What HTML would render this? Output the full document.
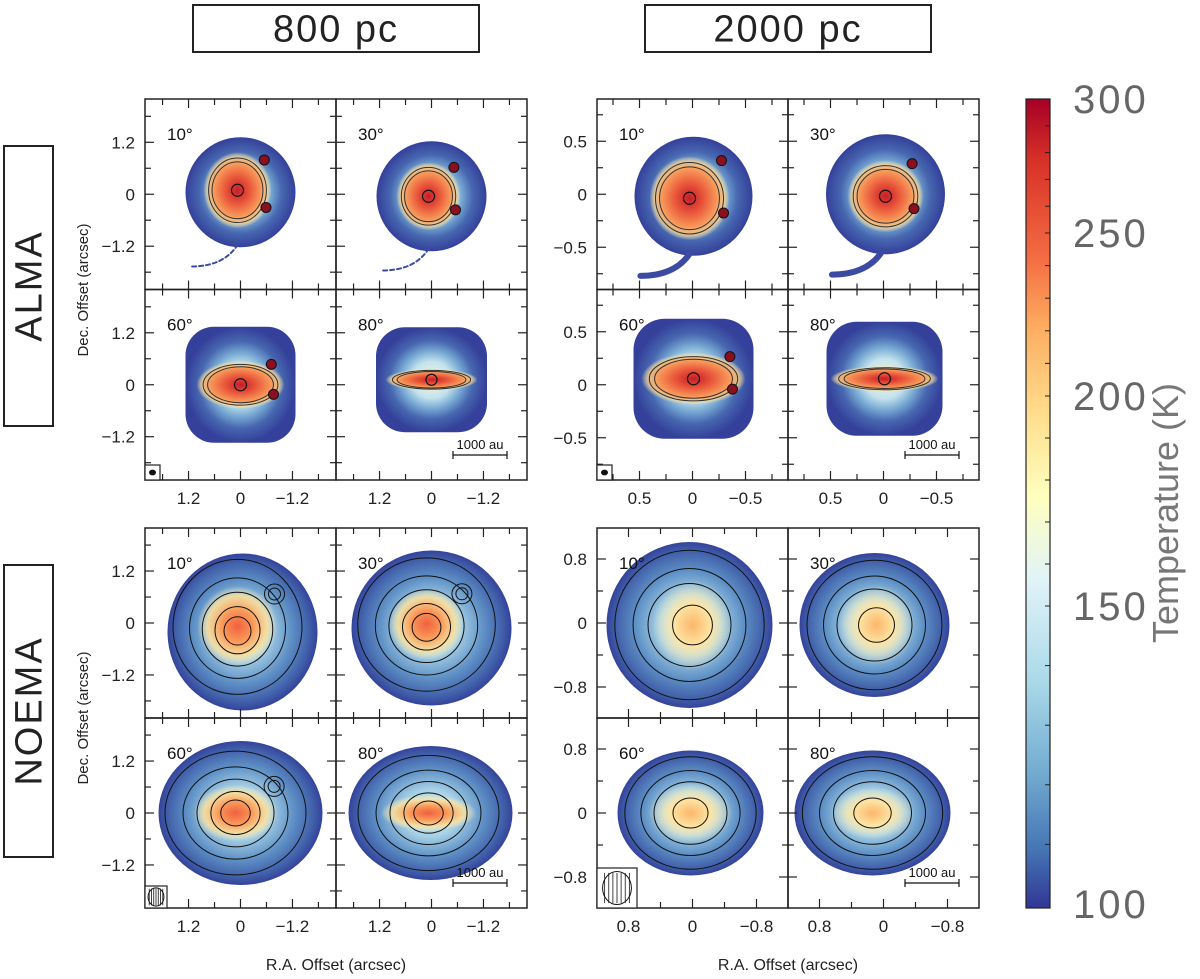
<!DOCTYPE html>
<html><head><meta charset="utf-8">
<style>
html,body{margin:0;padding:0;background:#fff;}
svg{display:block;font-family:"Liberation Sans",sans-serif;}
</style></head>
<body>
<svg id="fig" width="1200" height="979" viewBox="0 0 1200 979" xmlns="http://www.w3.org/2000/svg">
<defs>
  <radialGradient id="gBase" cx="50%" cy="50%" r="50%">
    <stop offset="0" stop-color="#f6f6d8"/>
    <stop offset="0.35" stop-color="#c3e3ee"/>
    <stop offset="0.55" stop-color="#78a9d3"/>
    <stop offset="0.75" stop-color="#4767b0"/>
    <stop offset="1" stop-color="#34409a"/>
  </radialGradient>
  <radialGradient id="gBaseN" cx="50%" cy="50%" r="50%">
    <stop offset="0" stop-color="#eef5e0"/>
    <stop offset="0.35" stop-color="#a7d1e6"/>
    <stop offset="0.65" stop-color="#5f91c6"/>
    <stop offset="0.88" stop-color="#4262ab"/>
    <stop offset="1" stop-color="#34439b"/>
  </radialGradient>
  <radialGradient id="gHot" cx="50%" cy="50%" r="50%">
    <stop offset="0" stop-color="#c41e2a"/>
    <stop offset="0.35" stop-color="#e9553a"/>
    <stop offset="0.7" stop-color="#f89a5a"/>
    <stop offset="0.88" stop-color="#fdd28a" stop-opacity="0.8"/>
    <stop offset="1" stop-color="#fff3c0" stop-opacity="0"/>
  </radialGradient>
  <radialGradient id="gHotN" cx="50%" cy="50%" r="50%">
    <stop offset="0" stop-color="#f06040"/>
    <stop offset="0.4" stop-color="#fa9a58"/>
    <stop offset="0.75" stop-color="#fde19a" stop-opacity="0.85"/>
    <stop offset="1" stop-color="#fff5c5" stop-opacity="0"/>
  </radialGradient>
  <radialGradient id="gWarm" cx="50%" cy="50%" r="50%">
    <stop offset="0" stop-color="#fcb66c"/>
    <stop offset="0.45" stop-color="#fde3a0"/>
    <stop offset="1" stop-color="#fbf8d0" stop-opacity="0"/>
  </radialGradient>
  <linearGradient id="gBar" x1="0" y1="1" x2="0" y2="0">
    <stop offset="0" stop-color="#313695"/>
    <stop offset="0.072" stop-color="#4575b4"/>
    <stop offset="0.17" stop-color="#74add1"/>
    <stop offset="0.282" stop-color="#abd9e9"/>
    <stop offset="0.405" stop-color="#e0f3f8"/>
    <stop offset="0.507" stop-color="#ffffbf"/>
    <stop offset="0.604" stop-color="#fee090"/>
    <stop offset="0.715" stop-color="#fdae61"/>
    <stop offset="0.802" stop-color="#f46d43"/>
    <stop offset="0.926" stop-color="#d73027"/>
    <stop offset="1" stop-color="#a50026"/>
  </linearGradient>
</defs>
<g id="layer"></g>
</svg>
<script>
// ---- data ----
const groupTickLabelsAlmaLeft = ["1.2","0","\u22121.2"];
const groupTickValuesAlmaLeft = [1.2,0,-1.2];
const groupTickLabelsAlmaRight = ["0.5","0","\u22120.5"];
const groupTickValuesAlmaRight = [0.5,0,-0.5];
const groupTickLabelsNoemaRight = ["0.8","0","\u22120.8"];
const groupTickValuesNoemaRight = [0.8,0,-0.8];
const inclinations = ["10\u00b0","30\u00b0","60\u00b0","80\u00b0"];
const colorbarValues = [100,150,200,250,300];
const colorbarLabels = ["100","150","200","250","300"];

const NS = "http://www.w3.org/2000/svg";
const layer = document.getElementById("layer");
function mk(tag, attrs, parent){
  const e = document.createElementNS(NS, tag);
  for (const k in attrs) e.setAttribute(k, attrs[k]);
  (parent||layer).appendChild(e);
  return e;
}
function txt(s, attrs, parent){ const t = mk("text", attrs, parent); t.textContent = s; return t; }

const groups = [
  {name:"alma-800pc", x0:145, y0:99, pw:191, ph:190.5, scale:43.3, range:2.2, minor:0.6, major:1.2, tv:groupTickValuesAlmaLeft, tl:groupTickLabelsAlmaLeft, kind:"alma",
   shapes:[{t:"c",dx:0,dy:-2,w:110,h:110,hot:[-3,-2,34,38]},{t:"c",dx:0,dy:2,w:110,h:110,hot:[-3,0,32,34]},{t:"r",dx:0,dy:0,w:110,h:116,hot:[0,0,44,24]},{t:"r",dx:0,dy:-5,w:111,h:105,hot:[0,0,46,11]}]},
  {name:"alma-2000pc", x0:597, y0:99, pw:191, ph:190.5, scale:106, range:0.9, minor:0.25, major:0.5, tv:groupTickValuesAlmaRight, tl:groupTickLabelsAlmaRight, kind:"alma",
   shapes:[{t:"c",dx:1,dy:2,w:118,h:119,hot:[-4,2,40,42]},{t:"c",dx:2,dy:0,w:119,h:120,hot:[0,2,38,36]},{t:"r",dx:1,dy:-6,w:120,h:120,hot:[0,0,52,26]},{t:"r",dx:1,dy:-6,w:116,h:114,hot:[0,0,54,13]}]},
  {name:"noema-800pc", x0:145, y0:528, pw:191, ph:190, scale:43.3, range:2.2, minor:0.6, major:1.2, tv:groupTickValuesAlmaLeft, tl:groupTickLabelsAlmaLeft, kind:"noemaL",
   shapes:[{t:"e",dx:2,dy:9,w:150,h:157,hot:[-5,-6,40,40]},{t:"e",dx:0,dy:5,w:160,h:155,hot:[-5,-4,38,36]},{t:"e",dx:0,dy:0,w:164,h:144,hot:[-5,0,42,28]},{t:"e",dx:-1,dy:0,w:164,h:134,hot:[-2,0,48,18]}]},
  {name:"noema-2000pc", x0:597, y0:528, pw:191, ph:190, scale:80, range:1.2, minor:0.4, major:0.8, tv:groupTickValuesNoemaRight, tl:groupTickLabelsNoemaRight, kind:"noemaR",
   shapes:[{t:"e",dx:-3,dy:2,w:166,h:166,hot:[3,0,40,45]},{t:"e",dx:-9,dy:2,w:150,h:144,hot:[2,0,38,40]},{t:"e",dx:-2,dy:0,w:146,h:125,hot:[0,0,42,30]},{t:"e",dx:-11,dy:0,w:156,h:125,hot:[0,0,42,26]}]}
];

function drawPanel(g, idx){
  const col = idx%2, row = Math.floor(idx/2);
  const px = g.x0 + col*g.pw, py = g.y0 + row*g.ph;
  const cx = px + g.pw/2, cy = py + g.ph/2;
  const grp = mk("g", {});
  
  
  const clipId = "clip-"+g.name+"-"+idx;
  const cp = mk("clipPath",{id:clipId}, grp);
  mk("rect",{x:px,y:py,width:g.pw,height:g.ph},cp);
  const content = mk("g",{"clip-path":"url(#"+clipId+")"},grp);
  const s = g.shapes[idx];
  const bx = cx + s.dx, by = cy + s.dy;
  const baseFill = g.kind==="alma" ? "url(#gBase)" : "url(#gBaseN)";
  let blob;
  if (s.t==="c" || s.t==="e") blob = mk("ellipse",{cx:bx,cy:by,rx:s.w/2,ry:s.h/2,fill:baseFill},content);
  else blob = mk("rect",{x:bx-s.w/2,y:by-s.h/2,width:s.w,height:s.h,rx:s.w*0.26,fill:baseFill},content);
  
  
  if (g.kind==="alma" && idx<2){
    const r = s.w/2;
    mk("path",{d:`M${bx-r*0.05},${by+r*0.95} Q${bx-r*0.3},${by+r*1.35} ${bx-r*0.9},${by+r*1.35}`,fill:"none",stroke:"#3c4aa2","stroke-width":g.name==="alma-2000pc"?6:2,"stroke-linecap":"round","stroke-dasharray":g.name==="alma-2000pc"?"none":"4 3"},content);
  }
  const hotFill = g.kind==="alma" ? "url(#gHot)" : (g.kind==="noemaL" ? "url(#gHotN)" : "url(#gWarm)");
  const h = s.hot;
  const hot = mk("ellipse",{cx:bx+h[0],cy:by+h[1],rx:h[2],ry:h[3],fill:hotFill},content);
  
  
  const cg = mk("g",{fill:"none",stroke:"#111","stroke-width":1},content);
  if (g.kind==="noemaR"){
    [0.9,0.68,0.5,0.24].forEach(f=>{
      mk("ellipse",{cx:bx+(f<0.3?h[0]:0),cy:by,rx:s.w/2*f,ry:s.h/2*f},cg);
    });
  } else if (g.kind==="noemaL"){
    [0.86,0.64,0.47,0.3,0.18].forEach(f=>{
      mk("ellipse",{cx:bx+h[0],cy:by+h[1]*f,rx:s.w/2*f,ry:s.h/2*f},cg);
    });
    if (idx<3){ mk("circle",{cx:bx+h[2]*0.8,cy:by-h[3]*0.95,r:10},cg); mk("circle",{cx:bx+h[2]*0.8,cy:by-h[3]*0.95,r:6},cg);}
  } else {
    [1.0,0.88].forEach(f=>{
      mk("ellipse",{cx:bx+h[0],cy:by+h[1],rx:h[2]*0.85*f,ry:h[3]*0.85*f,"stroke-width":1,stroke:"#333"},cg);
    });
    mk("circle",{cx:bx+h[0],cy:by+h[1],r:Math.min(6,h[3]*0.5),"stroke-width":1.2},cg);
    if (idx<3){
      mk("circle",{cx:bx+h[2]*0.7,cy:by-h[3]*0.85,r:5,fill:"#8a1020"},cg);
      mk("circle",{cx:bx+h[2]*0.75,cy:by+h[3]*0.4,r:5,fill:"#8a1020"},cg);
    }
  }
  mk("rect",{x:px,y:py,width:g.pw,height:g.ph,fill:"none",stroke:"#222","stroke-width":1.5},grp);
  const tg = mk("g",{stroke:"#222","stroke-width":1.2},grp);
  const n = Math.floor(g.range/g.minor);
  for (let k=-n;k<=n;k++){
    const v = k*g.minor;
    const isMaj = Math.abs(v/g.major - Math.round(v/g.major))<1e-6;
    const L = isMaj?9:6;
    const x = cx - v*g.scale, y = cy - v*g.scale;
    if (x>px+1 && x<px+g.pw-1){
      mk("line",{x1:x,y1:py,x2:x,y2:py+L},tg); mk("line",{x1:x,y1:py+g.ph,x2:x,y2:py+g.ph-L},tg);
    }
    if (y>py+1 && y<py+g.ph-1){
      mk("line",{x1:px,y1:y,x2:px+L,y2:y},tg); mk("line",{x1:px+g.pw,y1:y,x2:px+g.pw-L,y2:y},tg);
    }
  }
  if (col===0){
    g.tv.forEach((v,i)=>{
      const t = txt(g.tl[i],{x:px-10,y:cy - v*g.scale + 6,"text-anchor":"end","font-size":17,fill:"#222"},grp);
      
      
    });
  }
  if (row===1){
    g.tv.forEach((v,i)=>{
      const t = txt(g.tl[i],{x:cx - v*g.scale,y:py+g.ph+24,"text-anchor":"middle","font-size":17,fill:"#222"},grp);
      
      
    });
  }
  const il = txt(inclinations[idx],{x:px+22,y:py+41,"font-size":17,fill:"#111"},grp);
  
  
  if (idx===2){
    const bw = g.kind==="noemaR" ? 40 : (g.kind==="noemaL" ? 22 : 15);
    const beam = mk("g",{},grp);
    
    
    mk("rect",{x:px,y:py+g.ph-bw,width:bw,height:bw,fill:"#fff",stroke:"#222","stroke-width":1.2},beam);
    const er = g.kind==="alma" ? 3 : bw*0.36;
    mk("ellipse",{cx:px+bw/2,cy:py+g.ph-bw/2,rx:er,ry:er*(g.kind==="alma"?0.8:1.15),fill:g.kind==="alma"?"#111":"#fff",stroke:"#111"},beam);
    if (g.kind!=="alma"){ for(let k=-3;k<=3;k++) mk("line",{x1:px+bw/2+k*er/3.5,y1:py+g.ph-bw/2-er*1.05,x2:px+bw/2+k*er/3.5,y2:py+g.ph-bw/2+er*1.05,stroke:"#111","stroke-width":0.8},beam); }
  }
  if (idx===3){
    const sb = mk("g",{},grp);
    
    
    const x1 = px+g.pw-74, x2 = px+g.pw-20, y = py+g.ph-25;
    mk("line",{x1:x1,y1:y,x2:x2,y2:y,stroke:"#111","stroke-width":1.2},sb);
    mk("line",{x1:x1,y1:y-4,x2:x1,y2:y+4,stroke:"#111","stroke-width":1.2},sb);
    mk("line",{x1:x2,y1:y-4,x2:x2,y2:y+4,stroke:"#111","stroke-width":1.2},sb);
    txt("1000 au",{x:(x1+x2)/2,y:y-6,"text-anchor":"middle","font-size":13,fill:"#111"},sb);
  }
}
groups.forEach(g=>{ for(let i=0;i<4;i++) drawPanel(g,i); });

function box(label,x,y,w,h,rot,name){
  const gg = mk("g",{});
  
  
  mk("rect",{x:x,y:y,width:w,height:h,fill:"#fff",stroke:"#222","stroke-width":2},gg);
  const cx=x+w/2, cy=y+h/2;
  const t = txt(label,{x:cx,y:cy+13,"text-anchor":"middle","font-size":38,fill:"#222","letter-spacing":"2"},gg);
  if (rot) t.setAttribute("transform",`rotate(-90 ${cx} ${cy})`);
}
box("800 pc",193,5,286,47,false,"header-800pc");
box("2000 pc",645,5,286,47,false,"header-2000pc");
box("ALMA",4,146,49,280,true,"row-label-alma");
box("NOEMA",4,565,49,292,true,"row-label-noema");

[[88,290],[88,718]].forEach(p=>{
  const t = txt("Dec. Offset (arcsec)",{x:p[0],y:p[1],"text-anchor":"middle","font-size":15,fill:"#222",transform:`rotate(-90 ${p[0]} ${p[1]})`});
  
  
});
[[336,970],[788,970]].forEach(p=>{
  const t = txt("R.A. Offset (arcsec)",{x:p[0],y:p[1],"text-anchor":"middle","font-size":16,fill:"#222"});
  
  
});

const cbAnchorsV = [100,150,200,250,300];
const cbAnchorsY = [904,606,396,233,99];
function tempToY(v){
  for(let i=0;i<cbAnchorsV.length-1;i++){
    if (v<=cbAnchorsV[i+1]){ const f=(v-cbAnchorsV[i])/(cbAnchorsV[i+1]-cbAnchorsV[i]); return cbAnchorsY[i]+f*(cbAnchorsY[i+1]-cbAnchorsY[i]); }
  }
  return cbAnchorsY[cbAnchorsY.length-1];
}
const cb = mk("g",{});


mk("rect",{x:1026,y:99,width:24,height:809,fill:"url(#gBar)",stroke:"#222","stroke-width":1.2},cb);
for (let v=110; v<300; v+=10){ const y=tempToY(v); mk("line",{x1:1050,y1:y,x2:1045,y2:y,stroke:"#222","stroke-width":1},cb); }
colorbarValues.forEach((v,i)=>{
  const t = txt(colorbarLabels[i],{x:1073,y:tempToY(v)+14,"font-size":40,fill:"#666","letter-spacing":"3"},cb);
  
  
});
const ct = txt("Temperature (K)",{x:1178,y:513,"text-anchor":"middle","font-size":36,fill:"#777",transform:"rotate(-90 1178 513)"},cb);


</script>
</body></html>
